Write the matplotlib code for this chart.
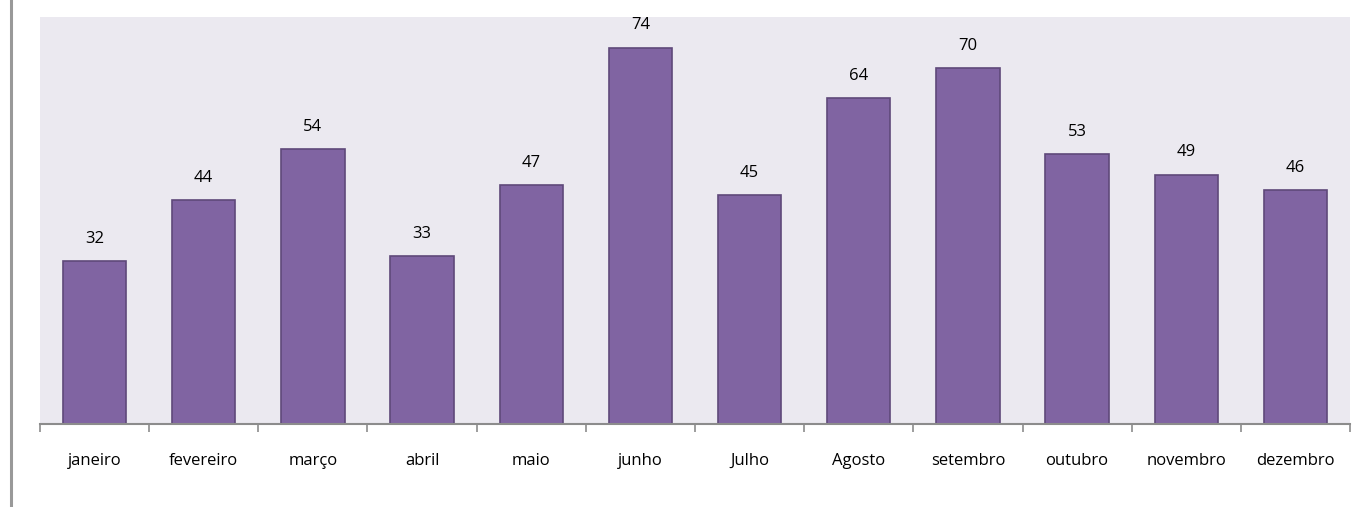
import matplotlib
matplotlib.use("Agg")
import matplotlib.pyplot as plt
from matplotlib.lines import Line2D

months = ["janeiro", "fevereiro", "março", "abril", "maio", "junho", "Julho",
          "Agosto", "setembro", "outubro", "novembro", "dezembro"]
values = [32, 44, 54, 33, 47, 74, 45, 64, 70, 53, 49, 46]

plt.rcParams['font.family'] = ['Open Sans', 'DejaVu Sans']

W, H = 1362, 507
fig = plt.figure(figsize=(W / 100, H / 100), dpi=100)
ax = fig.add_axes([40 / W, 1 - 424 / H, (1350 - 40) / W, (424 - 17) / H])
ax.set_facecolor("#EBE9F0")

x = list(range(len(months)))
bars = ax.bar(x, values, width=0.58, color="#8064A2", edgecolor="#5F497A", linewidth=1.2, zorder=2)
for xi, v in zip(x, values):
    ax.annotate(str(v), (xi, v), xytext=(0, 16), textcoords="offset points",
                ha="center", va="center", fontsize=12, color="black")

ax.set_xlim(-0.5, len(months) - 0.5)
ax.set_ylim(0, 80)
ax.set_yticks([])
for s in ["top", "right", "left"]:
    ax.spines[s].set_visible(False)
ax.spines["bottom"].set_color("#8c8c8c")
ax.spines["bottom"].set_linewidth(1.5)

ax.set_xticks([i - 0.5 for i in range(len(months) + 1)], minor=False)
ax.set_xticklabels([""] * (len(months) + 1))
ax.tick_params(axis="x", which="major", length=6, width=1.2, color="#8c8c8c")
ax.set_xticks(x, minor=True)
ax.set_xticklabels(months, minor=True, fontsize=12, color="black")
ax.tick_params(axis="x", which="minor", length=0, pad=21)

fig.add_artist(Line2D([11 / W, 11 / W], [0, 1], color="#999999", linewidth=2.2, transform=fig.transFigure))

fig.savefig("out.png", dpi=100, facecolor="white")
